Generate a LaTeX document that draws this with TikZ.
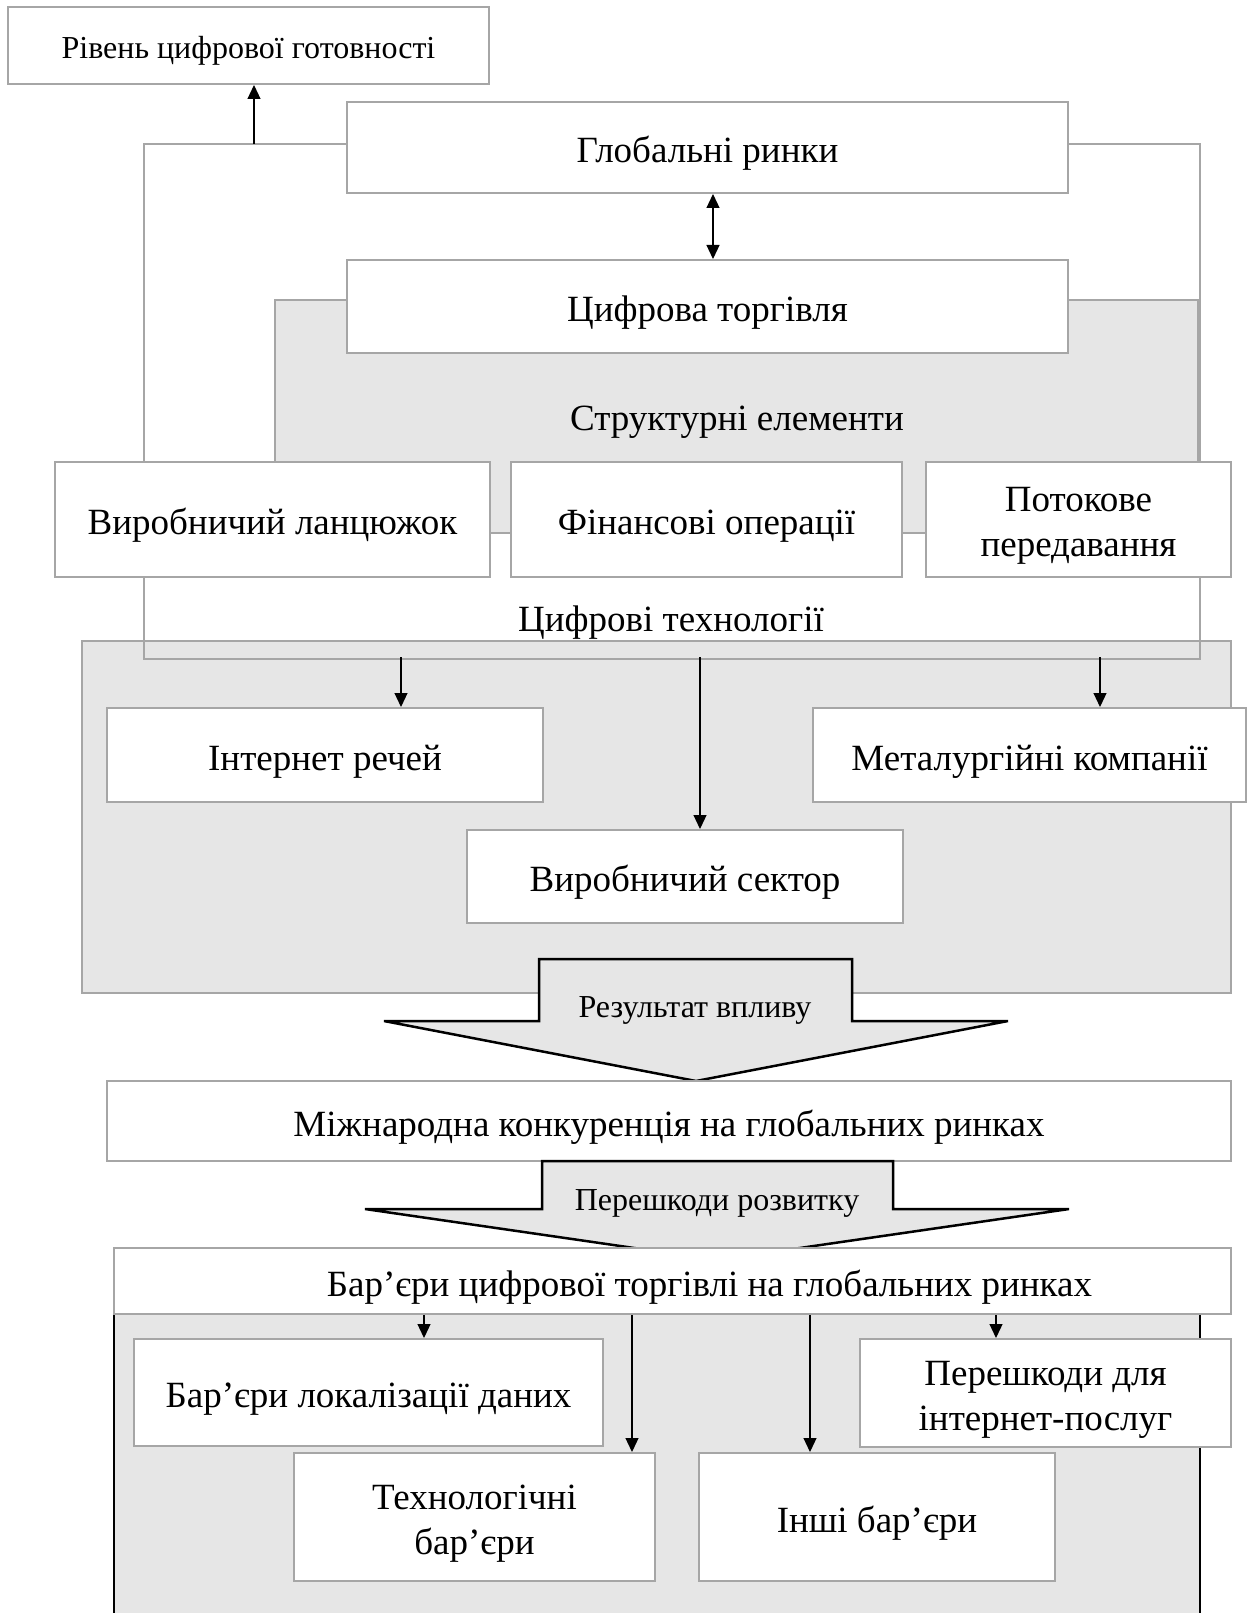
\documentclass[tikz,border=0pt]{standalone}
\usepackage{fontspec}
\setmainfont{Liberation Serif}
\usetikzlibrary{arrows.meta}
\definecolor{edgegray}{HTML}{A6A6A6}
\definecolor{panelgray}{HTML}{E6E6E6}
\newcommand\txtL{\fontsize{37}{45}\selectfont}
\newcommand\txtS{\fontsize{32}{38}\selectfont}
% strut that lowers the first line of two-line labels
\newcommand\toplift{\rule{0pt}{37pt}}
\begin{document}
\begin{tikzpicture}[x=1pt,y=-1pt,
  box/.style={draw=edgegray, line width=2pt, fill=white, inner sep=0pt, align=center, font=\txtL},
  onebox/.style={box, text height=32pt, text depth=2pt},
  panel/.style={draw=edgegray, line width=2pt, fill=panelgray},
  frameline/.style={draw=edgegray, line width=2pt, inner sep=0pt},
  link/.style={draw=black, line width=1.2pt, -{Triangle[length=14pt,width=13pt]}},
  bigarrow/.style={draw=black, line width=2.5pt, fill=panelgray, line join=miter},
  lbl/.style={inner sep=0pt, font=\txtL},
]
\useasboundingbox (0,0) rectangle (1247,1613);

% shaded panels behind the boxes
\path[panel] (275,300) rectangle (1198,533);
\path[panel] (82,641) rectangle (1231,993);

% outer connecting frame
\node[frameline, minimum width=1056pt, minimum height=515pt] (frame) at (672,401.5) {};

% top part
\node[box, font=\txtS, text height=27.5pt, text depth=2pt, minimum width=481pt, minimum height=77pt] (ready) at (248.5,45.5) {Рівень цифрової готовності};
\node[onebox, minimum width=721pt, minimum height=91pt] (global) at (707.5,147.5) {Глобальні ринки};
\node[onebox, minimum width=721pt, minimum height=93pt] (trade) at (707.5,306.5) {Цифрова торгівля};
\node[lbl] (structlbl) at (737,422) {Структурні елементи};

\node[onebox, minimum width=435pt, minimum height=115pt] (chain) at (272.5,519.5) {Виробничий ланцюжок};
\node[onebox, minimum width=391pt, minimum height=115pt] (fin) at (706.5,519.5) {Фінансові операції};
\node[box, minimum width=305pt, minimum height=115pt] (stream) at (1078.5,519.5) {\toplift Потокове\\передавання};

\node[lbl] (techlbl) at (671,623) {Цифрові технології};

\node[onebox, minimum width=436pt, minimum height=94pt] (iot) at (325,755) {Інтернет речей};
\node[onebox, minimum width=433pt, minimum height=94pt] (metal) at (1029.5,755) {Металургійні компанії};
\node[onebox, minimum width=436pt, minimum height=93pt] (prod) at (685,876.5) {Виробничий сектор};

% connectors of the top part
\coordinate (ftop) at (254,144);
\draw[link] (ftop) -- (ftop |- ready.south);
\coordinate (gt) at (713,0);
\draw[link, {Triangle[length=14pt,width=13pt]}-{Triangle[length=14pt,width=13pt]}] (gt |- global.south) -- (gt |- trade.north);
\coordinate (f1) at (401,657);
\coordinate (f2) at (700,657);
\coordinate (f3) at (1100,657);
\draw[link] (f1) -- (f1 |- iot.north);
\draw[link] (f2) -- (f2 |- prod.north);
\draw[link] (f3) -- (f3 |- metal.north);

% first block arrow
\draw[bigarrow] (539,959) -- (852,959) -- (852,1021) -- (1008,1021) -- (696,1081) -- (384,1021) -- (539,1021) -- cycle;
\node[inner sep=0pt, font=\txtS] (effect) at (695,1010) {Результат впливу};

\node[onebox, minimum width=1124pt, minimum height=80pt] (comp) at (669,1121) {Міжнародна конкуренція на глобальних ринках};

% second block arrow
\draw[bigarrow] (542,1161) -- (893,1161) -- (893,1209) -- (1069,1209) -- (717,1260) -- (365,1209) -- (542,1209) -- cycle;
\node[inner sep=0pt, font=\txtS] (obst) at (717,1203) {Перешкоди розвитку};

% bottom panel
\fill[panelgray] (114,1300) rectangle (1200,1613);
\draw[black, line width=2pt] (114,1300) -- (114,1613);
\draw[black, line width=2pt] (1200,1300) -- (1200,1613);

\node[onebox, minimum width=1117pt, minimum height=66pt] (barr) at (672.5,1281) {\hspace*{74pt}Бар’єри цифрової торгівлі на глобальних ринках};

\node[onebox, minimum width=469pt, minimum height=107pt] (loc) at (368.5,1392.5) {Бар’єри локалізації даних};
\node[box, minimum width=371pt, minimum height=108pt] (inet) at (1045.5,1393) {\toplift Перешкоди для\\інтернет-послуг};
\node[box, minimum width=361pt, minimum height=128pt] (techb) at (474.5,1517) {\toplift Технологічні\\бар’єри};
\node[onebox, minimum width=356pt, minimum height=128pt] (other) at (877,1517) {Інші бар’єри};

\coordinate (b1) at (424,0);
\coordinate (b2) at (632,0);
\coordinate (b3) at (810,0);
\coordinate (b4) at (996,0);
\draw[link] (b1 |- barr.south) -- (b1 |- loc.north);
\draw[link] (b2 |- barr.south) -- (b2 |- techb.north);
\draw[link] (b3 |- barr.south) -- (b3 |- other.north);
\draw[link] (b4 |- barr.south) -- (b4 |- inet.north);
\end{tikzpicture}
\end{document}
